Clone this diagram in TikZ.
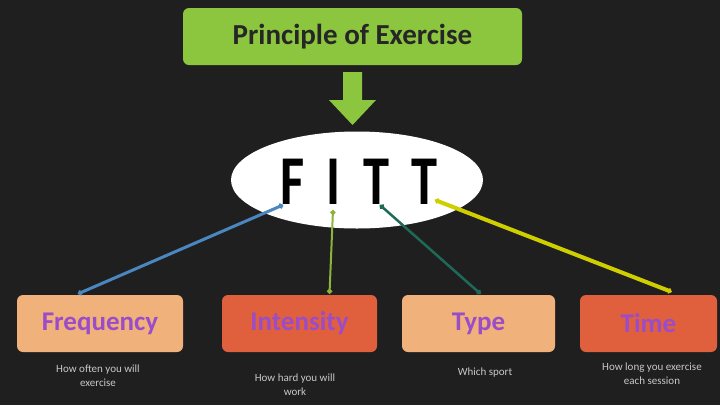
\documentclass[tikz,border=0pt]{standalone}
\usepackage{fontspec}
\setmainfont{Carlito}
\usetikzlibrary{arrows.meta,shapes.geometric}
\definecolor{bg}{HTML}{1F1F1F}
\definecolor{lime}{HTML}{8CC63F}
\definecolor{peach}{HTML}{F0B27A}
\definecolor{redor}{HTML}{E0603E}
\definecolor{purp}{HTML}{9B4CC8}
\definecolor{cblue}{HTML}{4A86C0}
\definecolor{cgreen}{HTML}{8DB33A}
\definecolor{cteal}{HTML}{1E6A58}
\definecolor{cyel}{HTML}{CFCF00}
\definecolor{subtxt}{HTML}{C8C8C8}
\tikzset{
  catbox/.style={rounded corners=6pt, minimum height=57pt, inner sep=2pt,
    font=\fontsize{27}{30}\selectfont\bfseries, text=purp},
  subnote/.style={font=\fontsize{11}{14}\selectfont, text=subtxt, align=center},
  link/.style={{Circle[length=5pt]}-{Circle[length=5pt]}}
}
\begin{document}
\begin{tikzpicture}[x=1pt,y=-1pt]
\fill[bg] (0,0) rectangle (720,405);
\useasboundingbox (0,0) rectangle (720,405);
% title
\node[rounded corners=6pt, fill=lime, minimum width=339pt, minimum height=57pt,
  font=\fontsize{29}{32}\selectfont\bfseries, text=black!85] (title) at (352.5,36.5) {Principle of Exercise};
% block arrow
\fill[lime] (343,72) -- (362,72) -- (362,100) -- (376,100) -- (352.5,125) -- (329,100) -- (343,100) -- cycle;
% ellipse
\node[ellipse, fill=white, minimum width=252pt, minimum height=97pt, inner sep=0pt] (fitt) at (357,180) {};
\node[font=\fontsize{70}{70}\selectfont\bfseries, text=black, xscale=0.75] (fittxt) at (359,182)
  {F\hspace{0.42em}I\hspace{0.42em}T\hspace{0.42em}T};
% boxes
\node[catbox, fill=peach, minimum width=166pt] (freq) at (100,323.5) {Frequency};
\node[catbox, fill=redor, minimum width=155pt] (inten) at (299.5,323.5) {Intensity};
\node[catbox, fill=peach, minimum width=153pt] (type) at (478.5,323.5) {Type};
\node[catbox, fill=redor, minimum width=137pt] (time) at (648.5,323.5) {Time};
% notes
\node[subnote] (nfreq) at (98,376) {How often you will\\exercise};
\node[subnote] (ninten) at (295,385) {How hard you will\\work};
\node[subnote] (ntype) at (485,373) {Which sport};
\node[subnote] (ntime) at (652,374) {How long you exercise\\each session};
% connectors
\coordinate (a1) at ([xshift=-74pt,yshift=-25pt]fitt.center);
\coordinate (a2) at ([xshift=-24pt,yshift=-30pt]fitt.center);
\coordinate (a3) at ([xshift=23pt,yshift=-25pt]fitt.center);
\coordinate (a4) at ([xshift=78pt,yshift=-20pt]fitt.center);
\draw[link, cblue, line width=3pt] (a1) -- ([xshift=-22pt,yshift=1pt]freq.north);
\draw[link, cgreen, line width=2pt] (a2) -- ([xshift=30pt,yshift=1pt]inten.north);
\draw[link, cteal, line width=2.5pt] (a3) -- ([xshift=2pt,yshift=1pt]type.north);
\draw[link, cyel, line width=4pt] (a4) -- ([xshift=23pt,yshift=3pt]time.north);
\end{tikzpicture}
\end{document}
